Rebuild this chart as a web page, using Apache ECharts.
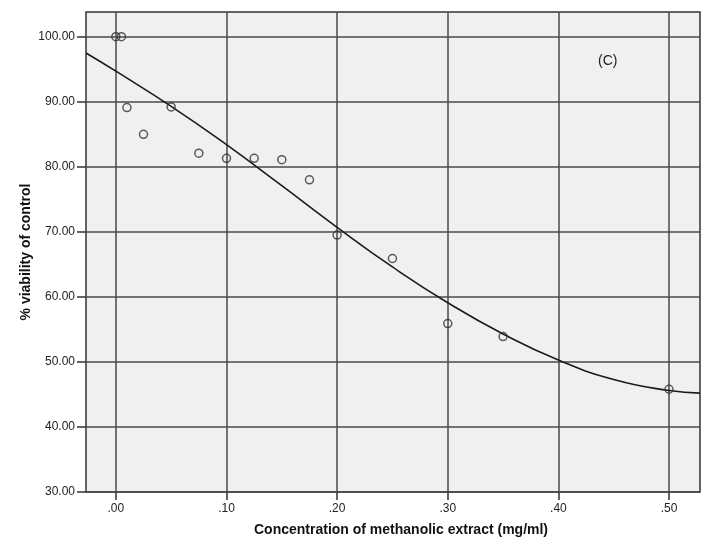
<!DOCTYPE html>
<html>
<head>
<meta charset="utf-8">
<script src="https://cdn.jsdelivr.net/npm/echarts@6/dist/echarts.min.js"></script>
<style>
    html, body { margin: 0; padding: 0; background: #fff; }
    #main { width: 707px; height: 546px; }
</style>
</head>
<body>
<div id="main"></div>
<script>
    // observed points: concentration (mg/ml) and % viability
    var concentration = [0, 0.005, 0.01, 0.025, 0.05, 0.075, 0.1, 0.125, 0.15, 0.175, 0.2, 0.25, 0.3, 0.35, 0.5];
    var viability = [100, 100, 89.1, 85.0, 89.2, 82.1, 81.3, 81.3, 81.1, 78.0, 69.5, 65.9, 55.9, 53.9, 45.8];

    // fitted curve
    var fitX = [-0.027, 0, 0.05, 0.1, 0.15, 0.2, 0.25, 0.3, 0.35, 0.4, 0.45, 0.5, 0.528];
    var fitY = [97.5, 94.7, 89.3, 83.4, 77.1, 70.7, 64.6, 59.1, 54.3, 50.3, 47.3, 45.6, 45.2];

    var xTicks = [0, 0.1, 0.2, 0.3, 0.4, 0.5];
    var yTicks = [30, 40, 50, 60, 70, 80, 90, 100];

    var chart = echarts.init(document.getElementById('main'));

    var pts = concentration.map(function (c, i) { return [c, viability[i]]; });
    var fit = fitX.map(function (c, i) { return [c, fitY[i]]; });

    var gridLine = { show: true, lineStyle: { color: '#4a4a4a', width: 1.5 } };

    chart.setOption({
        animation: false,
        backgroundColor: '#fff',
        title: {
            text: '(C)',
            left: 593,
            top: 49,
            textStyle: { fontFamily: 'Liberation Sans', fontSize: 14, fontWeight: 'normal', color: '#222' }
        },
        grid: {
            left: 86, right: 7, top: 12, bottom: 54,
            show: true,
            backgroundColor: '#f0f0f0',
            borderColor: '#333',
            borderWidth: 1.5
        },
        xAxis: {
            type: 'value',
            min: -0.027,
            max: 0.528,
            name: 'Concentration of methanolic extract (mg/ml)',
            nameLocation: 'middle',
            nameGap: 31,
            nameMoveOverlap: false,
            nameTextStyle: { fontFamily: 'Liberation Sans', fontSize: 14, fontWeight: 'bold', color: '#111', padding: [0, 0, 0, 16] },
            axisLine: { show: false, onZero: false },
            axisTick: { show: true, length: 8, customValues: xTicks, lineStyle: { color: '#333', width: 1.5 } },
            axisLabel: {
                customValues: xTicks,
                margin: 11,
                fontFamily: 'Liberation Sans', fontSize: 12, color: '#222',
                formatter: function (v) { return v.toFixed(2).replace(/^0/, ''); }
            },
            splitLine: gridLine
        },
        yAxis: {
            type: 'value',
            min: 30,
            max: 103.8,
            interval: 10,
            name: '% viability of control',
            nameLocation: 'middle',
            nameGap: 53,
            nameMoveOverlap: false,
            nameTextStyle: { fontFamily: 'Liberation Sans', fontSize: 14, fontWeight: 'bold', color: '#111' },
            axisLine: { show: false, onZero: false },
            axisTick: { show: true, length: 9, customValues: yTicks, lineStyle: { color: '#333', width: 1.5 } },
            axisLabel: {
                customValues: yTicks,
                margin: 11,
                fontFamily: 'Liberation Sans', fontSize: 12, color: '#222',
                formatter: function (v) { return v.toFixed(2); }
            },
            splitLine: gridLine
        },
        series: [
            {
                type: 'line',
                data: fit,
                smooth: true,
                showSymbol: false,
                lineStyle: { color: '#1a1a1a', width: 1.6 },
                z: 3
            },
            {
                type: 'scatter',
                data: pts,
                symbol: 'circle',
                symbolSize: 8,
                itemStyle: { color: 'rgba(0,0,0,0)', borderColor: '#333', borderWidth: 1.5 },
                z: 4
            }
        ]
    });
</script>
</body>
</html>
